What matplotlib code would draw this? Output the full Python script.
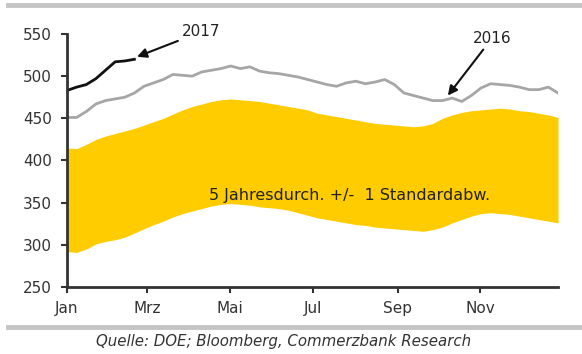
import numpy as np
import matplotlib.pyplot as plt
from matplotlib.lines import Line2D

# Wochenwerte (52 Wochen), Mio. Barrel
weeks = np.arange(52)
band_upper = [415, 414, 419, 425, 429, 432, 435, 438, 442, 446, 450, 455, 460,
              464, 467, 470, 472, 473, 472, 471, 470, 468, 466, 464, 462, 460,
              456, 454, 452, 450, 448, 446, 444, 443, 442, 441, 440, 441, 444,
              450, 454, 457, 459, 460, 461, 462, 461, 459, 458, 456, 454, 451]
band_lower = [292, 291, 295, 301, 304, 306, 309, 314, 319, 324, 328, 333, 337,
              340, 343, 346, 348, 349, 348, 347, 345, 344, 343, 341, 338, 335,
              332, 330, 328, 326, 324, 323, 321, 320, 319, 318, 317, 316, 318,
              321, 326, 330, 334, 337, 338, 337, 336, 334, 332, 330, 328, 326]
stocks_2016 = [451, 451, 458, 467, 471, 473, 475, 480, 488, 492, 496, 502, 501,
               500, 505, 507, 509, 512, 509, 511, 506, 504, 503, 501, 499, 496,
               493, 490, 488, 492, 494, 491, 493, 496, 490, 480, 477, 474, 471,
               471, 474, 470, 477, 486, 491, 490, 489, 487, 484, 484, 487, 480]
stocks_2017 = [483, 487, 490, 497, 507, 517, 518, 520]

month_days = [0, 59, 120, 181, 243, 304]
month_labels = ['Jan', 'Mrz', 'Mai', 'Jul', 'Sep', 'Nov']
yticks = [250, 300, 350, 400, 450, 500, 550]

# Wochen auf Tage im Jahr abbilden
year_end = 361
days = weeks * year_end / weeks[-1]
days_2017 = days[:len(stocks_2017)]

fig = plt.figure(figsize=(5.82, 3.54), dpi=100)
ax = fig.add_axes([0.1151, 0.1893, 0.8437, 0.7147])

ax.fill_between(days, band_lower, band_upper, color='#FFCC00', linewidth=0)
ax.plot(days, stocks_2016, color='#A6A6A6', linewidth=2)
ax.plot(days_2017, stocks_2017, color='#111111', linewidth=2)

ax.text(208, 358, '5 Jahresdurch. +/-  1 Standardabw.',
        fontsize=11.5, color='#222222', ha='center', va='center')

arrow = dict(arrowstyle='-|>', color='#111111', linewidth=1.5,
             mutation_scale=14, shrinkA=1, shrinkB=0)
ax.annotate('2017', xy=(51.5, 523), xytext=(84.5, 552.5), fontsize=11,
            color='#222222', ha='left', va='center', arrowprops=arrow,
            annotation_clip=False)
ax.annotate('2016', xy=(280, 477), xytext=(312.5, 545), fontsize=11,
            color='#222222', ha='center', va='center', arrowprops=arrow,
            annotation_clip=False)

ax.set_xlim(0, year_end)
ax.set_ylim(250, 550)
ax.set_xticks(month_days)
ax.set_xticklabels(month_labels)
ax.set_yticks(yticks)

for side in ['top', 'right']:
    ax.spines[side].set_visible(False)
for side in ['left', 'bottom']:
    ax.spines[side].set_color('#333333')
    ax.spines[side].set_linewidth(2)
ax.tick_params(axis='both', colors='#333333', labelsize=11, width=1.5,
               length=4, direction='out')
ax.tick_params(axis='x', pad=6)
ax.tick_params(axis='y', pad=7)
for lbl in ax.get_xticklabels() + ax.get_yticklabels():
    lbl.set_color('#333333')

# graue Trennlinien oben und unten
fig.add_artist(Line2D([0.014, 1.0], [0.986, 0.986], color='#C4C4C4', linewidth=3.5))
fig.add_artist(Line2D([0.014, 1.0], [0.076, 0.076], color='#C4C4C4', linewidth=3.5))

fig.text(0.487, 0.034, 'Quelle: DOE; Bloomberg, Commerzbank Research',
         fontsize=10.8, style='italic', color='#333333', ha='center', va='center')

fig.savefig('out.png', dpi=100)
